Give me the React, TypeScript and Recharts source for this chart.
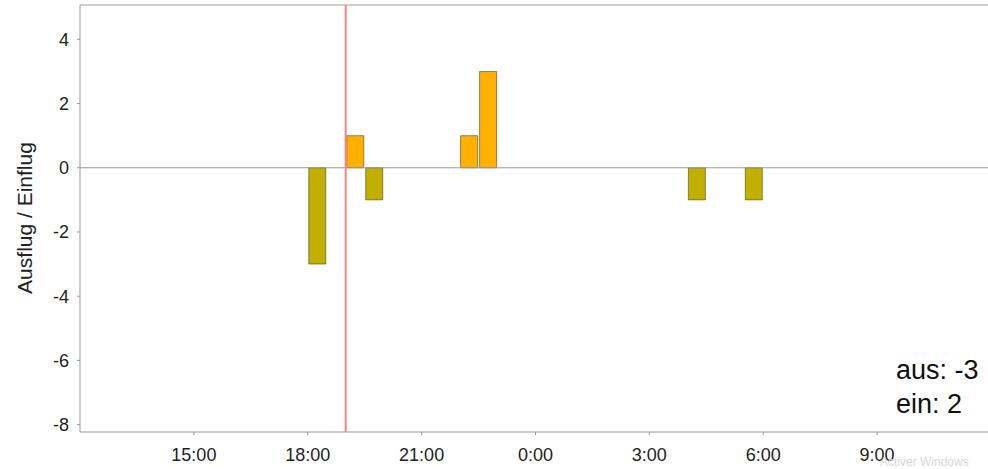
import React from "react";
import { BarChart, Bar, XAxis, YAxis, ReferenceLine } from "recharts";

// half-hour bins, start hour (24+ = next day)
const binStart = [18, 19, 19.5, 22, 22.5, 28, 29.5];
const ein = [0, 1, 0, 1, 3, 0, 0];
const aus = [-3, 0, -1, 0, 0, -1, -1];

const xTicks = [15, 18, 21, 24, 27, 30, 33];
const yTicks = [-8, -6, -4, -2, 0, 2, 4];
const markerHour = 19;

const data = binStart.map((h, i) => ({ t: h + 0.25, ein: ein[i], aus: aus[i] }));

const font = "'Liberation Sans', Arial, sans-serif";
const tickStyle = { fontSize: 18, fill: "#222", fontFamily: font };

export default function App() {
  return (
    <div
      style={{
        position: "absolute",
        left: 0,
        top: 0,
        width: 988,
        height: 469,
        overflow: "hidden",
        background: "#fff",
        fontFamily: font,
      }}
    >
      <BarChart
        width={1040}
        height={469}
        data={data}
        stackOffset="sign"
        margin={{ top: 5, right: 49, left: 0, bottom: 0 }}
        accessibilityLayer={false}
      >
        <XAxis
          type="number"
          dataKey="t"
          domain={[12, 36]}
          ticks={xTicks}
          tickFormatter={(h) => `${h % 24}:00`}
          stroke="#999"
          tickSize={3}
          tickMargin={13}
          height={37}
          tick={tickStyle}
        />
        <YAxis
          domain={[-8.23, 5.07]}
          ticks={yTicks}
          stroke="#999"
          tickSize={3}
          tickMargin={8}
          width={80}
          tick={tickStyle}
        />
        <ReferenceLine y={5.07} stroke="#cfcfcf" strokeWidth={2} ifOverflow="visible" />
        <ReferenceLine y={0} stroke="#999" />
        <Bar
          dataKey="aus"
          stackId="s"
          barSize={19}
          fill="#c2b000"
          stroke="rgba(0,0,0,0.4)"
          isAnimationActive={false}
        />
        <Bar
          dataKey="ein"
          stackId="s"
          barSize={19}
          fill="#ffb000"
          stroke="rgba(0,0,0,0.4)"
          isAnimationActive={false}
        />
        <ReferenceLine x={markerHour} stroke="#ff8080" strokeWidth={2} />
      </BarChart>
      <div
        style={{
          position: "absolute",
          left: 25,
          top: 218,
          transform: "translate(-50%, -50%) rotate(-90deg)",
          fontSize: 21,
          color: "#222",
          whiteSpace: "nowrap",
        }}
      >
        Ausflug / Einflug
      </div>
      <div
        style={{
          position: "absolute",
          left: 896,
          top: 353,
          fontSize: 27,
          lineHeight: "34px",
          color: "#111",
          whiteSpace: "nowrap",
        }}
      >
        <div>aus: -3</div>
        <div>ein: 2</div>
      </div>
      <div
        style={{
          position: "absolute",
          left: 880,
          top: 455,
          fontSize: 12,
          lineHeight: "14px",
          color: "#d8d8d8",
          whiteSpace: "nowrap",
        }}
      >
        Activer Windows
      </div>
    </div>
  );
}
